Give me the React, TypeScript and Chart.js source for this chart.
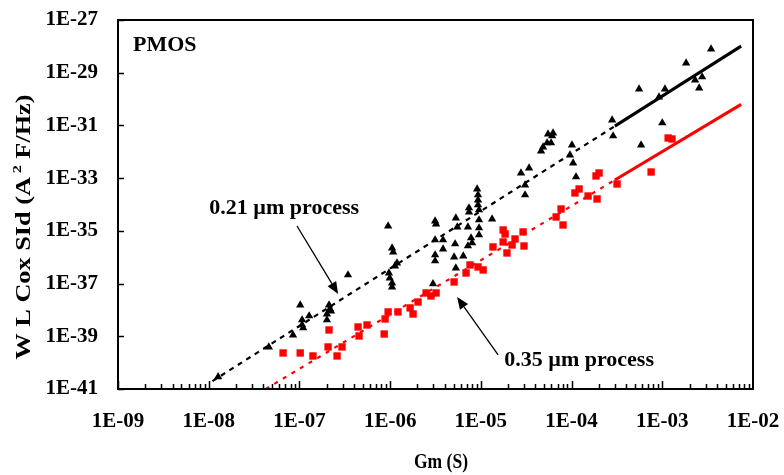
import React, { useEffect, useRef } from 'react';
import { Chart, registerables } from 'chart.js';

Chart.register(...registerables);

// Axis ticks
const xTickValues = [1e-9, 1e-8, 1e-7, 1e-6, 1e-5, 1e-4, 1e-3, 1e-2];
const yTickValues = [1e-41, 1e-39, 1e-37, 1e-35, 1e-33, 1e-31, 1e-29, 1e-27];

// 0.21 um process (black triangles)
const gm021 = [
  1.27e-8, 4.6e-8, 8.5e-8, 1.02e-7, 1.07e-7, 1.07e-7, 1.1e-7, 1.28e-7, 2.12e-7, 2.17e-7,
  2.23e-7, 2.01e-7, 2.01e-7, 3.43e-7, 9.5e-7, 1.05e-6, 1.08e-6, 1.19e-6, 1.13e-6, 9.7e-7,
  9.9e-7, 1.05e-6, 1.05e-6, 2.97e-6, 3.13e-6, 3.21e-6, 3.13e-6, 3.83e-6, 3.83e-6, 3.13e-6,
  3.13e-6, 5.2e-6, 5.07e-6, 6.4e-6, 5.3e-6, 5.3e-6, 5.5e-6, 7.2e-6, 7.4e-6, 7.4e-6,
  7.8e-6, 8.0e-6, 7.2e-6, 9.1e-6, 9.3e-6, 9.3e-6, 9.3e-6, 9.55e-6, 9.55e-6, 9.55e-6,
  9.55e-6, 1.33e-5, 2.77e-5, 3.4e-5, 3.07e-5, 3.07e-5, 5.5e-5, 6.25e-5, 6.1e-5, 5.37e-5,
  5.94e-5, 4.85e-5, 4.61e-5, 1.01e-4, 9.6e-5, 1.04e-4, 1.12e-4, 2.8e-4, 2.87e-4, 5.84e-4,
  1.0e-3, 5.55e-4, 1.07e-3, 9.2e-4, 1.83e-3, 2.3e-3, 2.75e-3, 2.55e-3, 3.45e-3,
];
const sid021 = [
  2.9e-41, 3.9e-40, 1.12e-39, 1.54e-38, 4.16e-39, 2.69e-39, 2.07e-39, 5.9e-39, 1.54e-38, 1.09e-38,
  9.1e-39, 7.0e-39, 4.16e-39, 2.12e-37, 1.53e-35, 2.24e-36, 1.58e-36, 6.0e-37, 4.65e-37, 2.52e-37,
  1.63e-37, 1.05e-37, 7.4e-38, 9.7e-38, 2.37e-35, 1.82e-35, 4.51e-36, 4.51e-36, 2.05e-36, 1.22e-36,
  7.2e-37, 3.18e-36, 1.02e-36, 1.11e-36, 3.9e-37, 3.08e-35, 1.4e-35, 1.4e-35, 7.4e-35, 5.2e-35,
  5.37e-36, 3.47e-36, 2.67e-36, 3.88e-34, 2.3e-34, 1.48e-34, 9.6e-35, 6.2e-35, 2.59e-35, 1.29e-35,
  6.98e-36, 2.82e-35, 1.57e-33, 2.43e-33, 5.5e-34, 2.3e-34, 4.73e-32, 5.17e-32, 3.98e-32, 2.16e-32,
  2.16e-32, 1.52e-32, 1.07e-32, 1.81e-32, 7.56e-33, 3.76e-33, 1.11e-33, 1.61e-31, 3.98e-32, 1.81e-32,
  1.24e-31, 2.41e-30, 2.41e-30, 1.2e-30, 2.34e-29, 5.3e-30, 6.9e-30, 2.63e-30, 7.94e-29,
];

// 0.35 um process (red squares)
const gm035 = [
  6.6e-8, 1.02e-7, 1.41e-7, 2.12e-7, 2.07e-7, 2.6e-7, 2.95e-7, 4.43e-7, 4.54e-7, 5.56e-7,
  8.6e-7, 8.8e-7, 9.5e-7, 1.22e-6, 1.66e-6, 1.79e-6, 2.03e-6, 2.49e-6, 2.82e-6, 3.21e-6,
  5.07e-6, 6.87e-6, 7.6e-6, 9.3e-6, 1.06e-5, 1.36e-5, 1.76e-5, 1.85e-5, 1.76e-5, 1.94e-5,
  2.21e-5, 2.38e-5, 2.92e-5, 2.99e-5, 6.75e-5, 7.66e-5, 8.05e-5, 1.09e-4, 1.21e-4, 1.52e-4,
  1.91e-4, 1.86e-4, 2.01e-4, 3.17e-4, 7.53e-4, 1.16e-3, 1.28e-3,
];
const sid035 = [
  2.33e-40, 2.33e-40, 1.79e-40, 1.74e-39, 3.94e-40, 1.79e-40, 3.94e-40, 2.26e-39, 1.03e-39, 2.69e-39,
  1.22e-39, 4.54e-39, 8.4e-39, 8.4e-39, 1.19e-38, 7.0e-39, 2.0e-38, 4.4e-38, 3.39e-38, 4.4e-38,
  1.15e-37, 2.52e-37, 5.08e-37, 4.27e-37, 3.28e-37, 2.45e-36, 1.08e-35, 7.6e-36, 3.79e-36, 1.45e-36,
  2.91e-36, 4.92e-36, 9.1e-36, 2.67e-36, 3.36e-35, 6.76e-35, 1.67e-35, 2.74e-34, 3.88e-34, 2.1e-34,
  1.62e-34, 1.21e-33, 1.57e-33, 6.0e-34, 1.71e-33, 3.34e-32, 3.06e-32,
];

// Trend lines (dashed then solid)
const fit021Gm = [1.1e-8, 3.0e-4, 7.4e-3];
const fit021Sid = [2.0e-41, 9.4e-32, 1.02e-28];
const fit035Gm = [4.25e-8, 3.0e-4, 7.4e-3];
const fit035Sid = [1.0e-41, 8.5e-34, 6.3e-31];

// Annotations (positions in data units)
const label021 = '0.21 µm process';
const label021At = [6.8e-8, 7.4e-35];
const arrow021 = [9.4e-8, 1.53e-35, 2.67e-7, 4.03e-38];
const label035 = '0.35 µm process';
const label035At = [1.21e-4, 1.26e-40];
const arrow035 = [1.55e-5, 1.96e-40, 5.47e-6, 3.1e-38];

const panelLabel = 'PMOS';
const xTitle = 'Gm (S)';
const yTitleMain = 'W L Cox SId (A';
const yTitleSup = '2';
const yTitleEnd = ' F/Hz)';

const FONT = "'Liberation Serif', 'Times New Roman', serif";

const fmt = (v: number) => {
  const e = Math.round(Math.log10(v));
  return '1E' + (e < 0 ? '-' : '+') + String(Math.abs(e)).padStart(2, '0');
};

const toPts = (xs: number[], ys: number[]) => xs.map((x, i) => ({ x, y: ys[i] }));

const decorPlugin = {
  id: 'decor',
  afterDraw(chart: any) {
    const { ctx, chartArea: a, scales } = chart;
    const xs = scales.x;
    const ys = scales.y;
    const P = (gx: number, sy: number) => [xs.getPixelForValue(gx), ys.getPixelForValue(sy)];
    ctx.save();
    // frame
    ctx.strokeStyle = '#000';
    ctx.fillStyle = '#000';
    ctx.lineWidth = 2;
    ctx.strokeRect(a.left, a.top, a.right - a.left, a.bottom - a.top);
    ctx.lineWidth = 1.5;
    ctx.beginPath();
    yTickValues.forEach((v) => {
      const py = Math.round(ys.getPixelForValue(v)) + 0.5;
      ctx.moveTo(a.left, py);
      ctx.lineTo(a.left + 6, py);
    });
    for (let k = -9; k < -2; k++) {
      for (let m = 1; m <= 9; m++) {
        const v = m * Math.pow(10, k);
        const px = Math.round(xs.getPixelForValue(v)) + 0.5;
        const len = m === 1 ? 8 : 5;
        ctx.moveTo(px, a.bottom);
        ctx.lineTo(px, a.bottom - len);
      }
    }
    ctx.stroke();

    // texts
    ctx.font = `bold 22px ${FONT}`;
    ctx.textBaseline = 'middle';
    ctx.textAlign = 'left';
    ctx.fillText(panelLabel, a.left + 15, a.top + 25);

    ctx.textAlign = 'center';
    const [l1x, l1y] = P(label021At[0], label021At[1]);
    ctx.fillText(label021, l1x, l1y);
    const [l2x, l2y] = P(label035At[0], label035At[1]);
    ctx.fillText(label035, l2x, l2y);

    const arrow = (ar: number[]) => {
      const [x0, y0] = P(ar[0], ar[1]);
      const [x1, y1] = P(ar[2], ar[3]);
      const ang = Math.atan2(y1 - y0, x1 - x0);
      const hl = 12;
      const hw = 5;
      const bx = x1 - hl * Math.cos(ang);
      const by = y1 - hl * Math.sin(ang);
      ctx.lineWidth = 1.3;
      ctx.beginPath();
      ctx.moveTo(x0, y0);
      ctx.lineTo(bx, by);
      ctx.stroke();
      ctx.beginPath();
      ctx.moveTo(x1, y1);
      ctx.lineTo(bx + hw * Math.sin(ang), by - hw * Math.cos(ang));
      ctx.lineTo(bx - hw * Math.sin(ang), by + hw * Math.cos(ang));
      ctx.closePath();
      ctx.fill();
    };
    arrow(arrow021);
    arrow(arrow035);

    // x title (fitted to reference width)
    ctx.save();
    ctx.font = `bold 21px ${FONT}`;
    ctx.textAlign = 'center';
    const xw = ctx.measureText(xTitle).width;
    ctx.translate(441, 463);
    ctx.scale(54 / xw, 1);
    ctx.fillText(xTitle, 0, 0);
    ctx.restore();

    // y title with superscript, fitted to reference length
    ctx.save();
    ctx.translate(25, 227);
    ctx.rotate(-Math.PI / 2);
    ctx.textAlign = 'left';
    ctx.font = `bold 21px ${FONT}`;
    const w1 = ctx.measureText(yTitleMain).width;
    const w3 = ctx.measureText(yTitleEnd).width;
    ctx.font = `bold 13px ${FONT}`;
    const w2 = ctx.measureText(yTitleSup).width;
    const gap = 3;
    const total = w1 + gap + w2 + w3;
    ctx.scale(265 / total, 1);
    let x = -total / 2;
    ctx.font = `bold 21px ${FONT}`;
    ctx.fillText(yTitleMain, x, 0);
    x += w1 + gap;
    ctx.font = `bold 13px ${FONT}`;
    ctx.fillText(yTitleSup, x, -7);
    x += w2;
    ctx.font = `bold 21px ${FONT}`;
    ctx.fillText(yTitleEnd, x, 0);
    ctx.restore();
    ctx.restore();
  },
};

export default function App() {
  const ref = useRef<HTMLCanvasElement>(null);
  useEffect(() => {
    if (!ref.current) return;
    const dashFirst = (dash: number[]) => (c: any) => (c.p0DataIndex === 0 ? dash : []);
    const widthFirst = (w0: number, w1: number) => (c: any) => (c.p0DataIndex === 0 ? w0 : w1);
    const chart = new Chart(ref.current, {
      type: 'scatter',
      data: {
        datasets: [
          {
            label: '0.21 um',
            data: toPts(gm021, sid021),
            pointStyle: 'triangle',
            pointRadius: 4.8,
            backgroundColor: '#000',
            borderWidth: 0,
          },
          {
            label: '0.35 um',
            data: toPts(gm035, sid035),
            pointStyle: 'rect',
            pointRadius: 5.2,
            backgroundColor: '#ff0000',
            borderWidth: 0,
          },
          {
            type: 'line',
            label: 'fit 0.21',
            data: toPts(fit021Gm, fit021Sid),
            borderColor: '#000',
            borderWidth: 2.5,
            pointRadius: 0,
            fill: false,
            segment: { borderDash: dashFirst([5, 5]), borderWidth: widthFirst(2.2, 3) },
          } as any,
          {
            type: 'line',
            label: 'fit 0.35',
            data: toPts(fit035Gm, fit035Sid),
            borderColor: '#ff0000',
            borderWidth: 2.5,
            pointRadius: 0,
            fill: false,
            segment: { borderDash: dashFirst([4, 6]), borderWidth: widthFirst(2.2, 3) },
          } as any,
        ],
      },
      options: {
        animation: false,
        responsive: false,
        devicePixelRatio: 1,
        layout: { padding: { left: 0, top: 20, right: 31, bottom: 0 } },
        plugins: { legend: { display: false }, tooltip: { enabled: false } },
        scales: {
          x: {
            type: 'logarithmic',
            min: 1e-9,
            max: 1e-2,
            grid: { display: false, drawTicks: false },
            border: { display: false },
            afterBuildTicks: (s: any) => {
              s.ticks = xTickValues.map((v) => ({ value: v }));
            },
            afterFit: (s: any) => {
              s.height = 86;
              s.paddingLeft = 0;
              s.paddingRight = 0;
            },
            ticks: {
              autoSkip: false,
              maxRotation: 0,
              padding: 20,
              color: '#000',
              font: { family: FONT, size: 21, weight: 'bold' },
              callback: (v: any) => fmt(Number(v)),
            },
          },
          y: {
            type: 'logarithmic',
            min: 1e-41,
            max: 1e-27,
            grid: { display: false, drawTicks: false },
            border: { display: false },
            afterBuildTicks: (s: any) => {
              s.ticks = yTickValues.map((v) => ({ value: v }));
            },
            afterFit: (s: any) => {
              s.width = 118;
              s.paddingTop = 0;
              s.paddingBottom = 0;
            },
            ticks: {
              autoSkip: false,
              padding: 20,
              color: '#000',
              font: { family: FONT, size: 21, weight: 'bold' },
              callback: (v: any) => fmt(Number(v)),
            },
          },
        },
      },
      plugins: [decorPlugin],
    } as any);
    return () => chart.destroy();
  }, []);
  return (
    <div style={{ position: 'absolute', left: 0, top: 0, width: 784, height: 475, background: '#fff' }}>
      <canvas ref={ref} width={784} height={475} />
    </div>
  );
}
